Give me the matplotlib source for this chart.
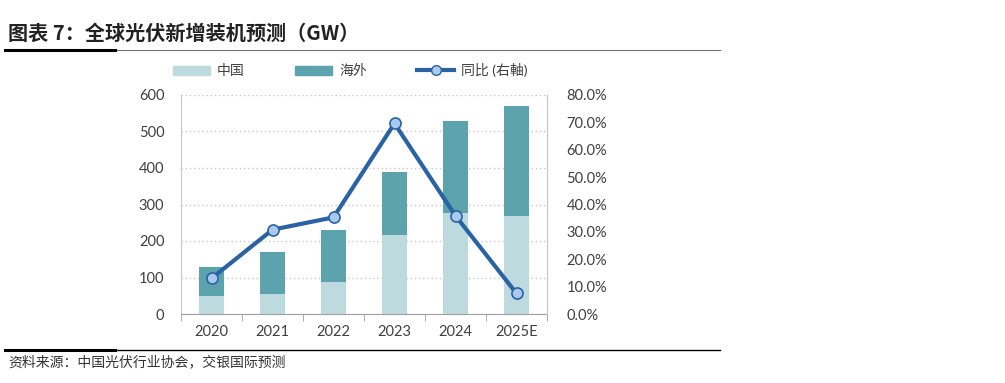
import matplotlib
matplotlib.use('Agg')
import matplotlib.pyplot as plt
from matplotlib.lines import Line2D
from matplotlib.patches import Patch
import numpy as np

plt.rcParams['font.family'] = ['Lato', 'Noto Sans CJK SC', 'DejaVu Sans']

years = ['2020', '2021', '2022', '2023', '2024', '2025E']
china = [48, 55, 87, 217, 277, 268]
overseas = [82, 115, 143, 173, 253, 302]
yoy = [13.0, 30.8, 35.3, 69.6, 35.9, 7.5]

LIGHT = '#bddbdf'
DARK = '#5ca3ad'
LINE = '#2a63a3'
MFACE = '#a9caee'
TXT = '#404040'

fig = plt.figure(figsize=(10.05, 3.83), dpi=100)
ax = fig.add_axes([181 / 1005, 1 - 314 / 383, 366 / 1005, 219 / 383])
x = np.arange(len(years))

ax.bar(x, china, width=0.4, color=LIGHT, zorder=2)
ax.bar(x, overseas, width=0.4, bottom=china, color=DARK, zorder=2)
ax.set_xlim(-0.5, len(years) - 0.5)
ax.set_ylim(0, 600)
ax.set_yticks(range(0, 601, 100))
ax.yaxis.grid(True, linestyle=(0, (1, 2)), color='#c8c8c8', linewidth=1)
ax.set_axisbelow(True)
ax.set_xticks(x)
ax.set_xticklabels(years)
ax.set_xticks(np.arange(-0.5, len(years)), minor=True)
ax.tick_params(axis='x', which='major', length=0, pad=8, labelsize=10.5, colors=TXT)
ax.tick_params(axis='x', which='minor', length=5, color='#a0a0a0')
ax.tick_params(axis='y', length=0, pad=12, labelsize=10.5, colors=TXT)
ax.spines['top'].set_visible(False)
for s in ['left', 'right']:
    ax.spines[s].set_color('#c8c8c8')
ax.spines['bottom'].set_color('#a0a0a0')

ax2 = ax.twinx()
ax2.plot(x, yoy, color=LINE, linewidth=3, marker='o', markersize=8,
         markerfacecolor=MFACE, markeredgecolor=LINE, markeredgewidth=1.2, zorder=3)
ax2.set_ylim(0, 80)
ax2.set_yticks(range(0, 81, 10))
ax2.set_yticklabels([f'{v:.1f}%' for v in range(0, 81, 10)])
ax2.tick_params(axis='y', length=0, pad=14, labelsize=10.5, colors=TXT)
for s in ['top', 'left', 'bottom']:
    ax2.spines[s].set_visible(False)
ax2.spines['right'].set_color('#c8c8c8')

handles = [Patch(color=LIGHT), Patch(color=DARK),
           Line2D([], [], color=LINE, linewidth=3, marker='o', markersize=7,
                  markerfacecolor=MFACE, markeredgecolor=LINE)]
fig.legend(handles, ['中国', '海外', '同比 (右軸)'], loc='center left', ncol=3,
           bbox_to_anchor=(160 / 1005, 1 - 70 / 383), frameon=False,
           fontsize=10, handlelength=2.7, handleheight=0.6, columnspacing=3.6,
           handletextpad=0.5, labelcolor=TXT)

fig.text(8 / 1005, 1 - 33 / 383, '图表 7：全球光伏新增装机预测（GW）',
         fontsize=14.5, fontweight='bold', color='#222222', va='center', ha='left',
         family=['Noto Sans CJK SC', 'DejaVu Sans'])
fig.add_artist(Line2D([5 / 1005, 720 / 1005], [1 - 50 / 383] * 2, color='#707070', linewidth=0.8))
fig.add_artist(Line2D([5 / 1005, 115 / 1005], [1 - 50 / 383] * 2, color='black', linewidth=2.2))
fig.add_artist(Line2D([5 / 1005, 720 / 1005], [1 - 350 / 383] * 2, color='black', linewidth=1.0))
fig.add_artist(Line2D([5 / 1005, 115 / 1005], [1 - 350 / 383] * 2, color='black', linewidth=2.2))
fig.text(8 / 1005, 1 - 362 / 383, '资料来源：中国光伏行业协会，交银国际预测',
         fontsize=10, style='italic', color='#333333', va='center', ha='left',
         family=['Noto Sans CJK SC', 'DejaVu Sans'])

fig.savefig('out.png', dpi=100, facecolor='white')
